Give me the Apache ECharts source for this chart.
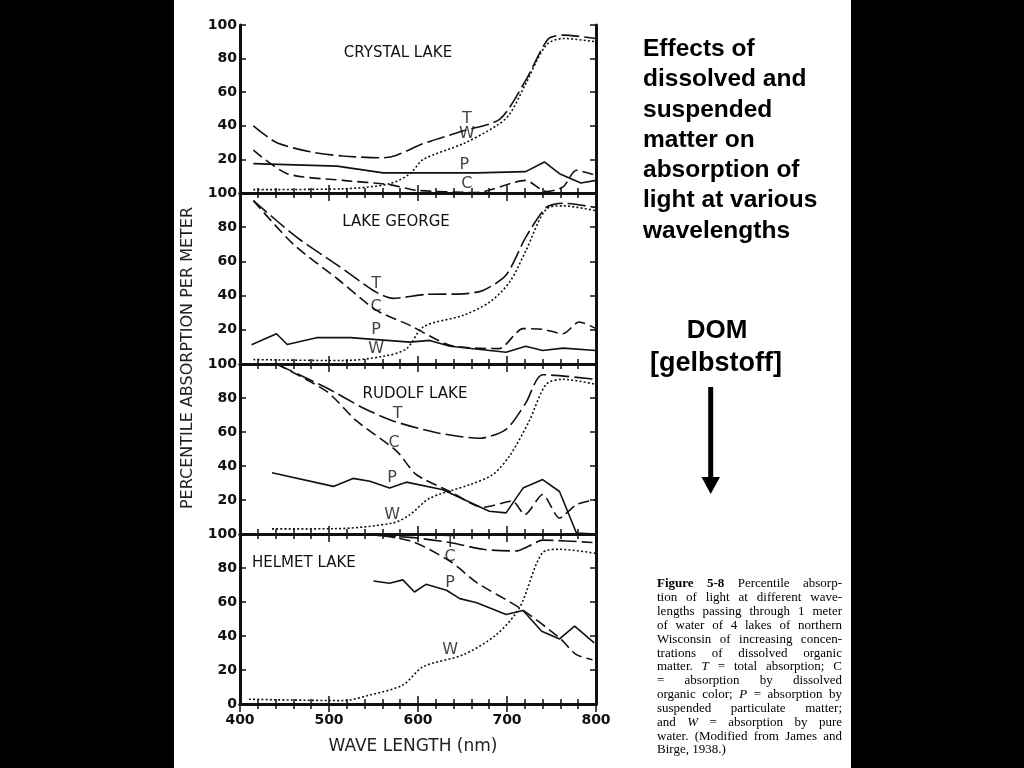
<!DOCTYPE html>
<html><head><meta charset="utf-8">
<script src="https://cdn.jsdelivr.net/npm/echarts@6/dist/echarts.min.js"></script>
<style>html,body{margin:0;padding:0;background:#000}#c{width:1024px;height:768px}</style>
</head><body><div id="c"></div><script>
const lakeNames = ['CRYSTAL LAKE', 'LAKE GEORGE', 'RUDOLF LAKE', 'HELMET LAKE'];
const xTickValues = [400, 500, 600, 700, 800];
const yTickValues = [0, 20, 40, 60, 80, 100];

// Crystal Lake  [wavelength nm, percent]
const crystalT = [[415,40],[441,30],[479,24.5],[516,22],[561,21],[576,22.5],[606,29.4],[651,37],[692,44],[721,67],[746,91.5],[763,94],[800,92]];
const crystalC = [[415,25.5],[453,11.5],[516,7.5],[568,5],[598,1.6],[666,0.3],[721,7.5],[744,0.8],[763,3.6],[778,13.5],[800,10.5]];
const crystalP = [[415,17.5],[509,16],[561,12],[666,12],[721,12.7],[742,18.5],[759,11.5],[783,6],[800,7.5]];
const crystalW = [[415,2],[516,2.5],[568,5.5],[591,11.5],[606,20],[651,29.4],[688,40],[703,47],[721,65],[744,88],[763,92],[800,90]];
const crystalLabels = [['T',655,44.3],['W',655,35],['P',652,17],['C',655,5.6]];

// Lake George
const georgeT = [[415,95.5],[464,74],[509,58],[553,42],[572,38.4],[609,40.7],[651,41],[673,43],[699,52],[721,74],[744,91.5],[763,94],[800,91.5]];
const georgeC = [[415,95.5],[460,70],[509,50],[553,31.5],[591,22.6],[636,11],[691,9],[718,20.7],[740,20.3],[763,17.7],[781,24.6],[800,20.7]];
const georgeP = [[413,11.2],[441,17.7],[453,11.4],[486,15.4],[524,15.4],[591,12.8],[613,13.8],[636,10.4],[699,6.9],[721,10.4],[740,7.9],[763,9.3],[800,7.9]];
const georgeW = [[415,2.6],[516,2],[561,4.5],[587,8.9],[606,21.7],[651,28.5],[681,36.4],[703,48],[721,66],[744,90.5],[763,92.5],[800,89.6]];
const georgeLabels = [['T',553,46.9],['C',553,33.5],['P',553,19.7],['W',553,8.9]];

// Rudolf Lake
const rudolfT = [[441,100],[497,86],[539,74],[572,66.5],[621,59.6],[669,56.3],[699,61.6],[721,77],[740,93.7],[800,91]];
const rudolfC = [[441,100],[497,84],[531,66.5],[576,48.8],[598,35],[636,25],[673,15.7],[706,19.3],[720,11.4],[740,23.2],[759,9.4],[778,17.3],[800,20.3]];
const rudolfP = [[436,36],[505,28],[527,32.7],[546,31],[568,27],[587,30.5],[628,26],[680,13.4],[699,12.4],[718,27],[740,32],[759,25],[778,0.6],[800,0]];
const rudolfW = [[436,3],[505,3.1],[572,6.5],[591,11.4],[613,21],[658,29],[684,35],[703,46],[725,66.5],[744,88],[763,91],[800,88]];
const rudolfLabels = [['T',577,70.5],['C',573,53.7],['P',571,33],['W',571,11.4]];

// Helmet Lake
const helmetT = [[400,100],[531,99.6],[591,98],[636,95],[673,91],[710,90],[725,93],[740,96.4],[796,95]];
const helmetC = [[400,100],[531,100],[591,96],[636,84],[666,71.4],[714,56.6],[759,38.9],[778,29],[796,26]];
const helmetP = [[550,72.4],[568,71],[583,73],[596,65.9],[609,70.4],[632,66.9],[647,62],[666,59.6],[699,52.7],[718,55],[739,42.8],[759,38.3],[776,45.8],[798,35.9]];
const helmetW = [[410,2.8],[516,2],[546,5.3],[583,11.2],[606,22],[651,29],[688,40.8],[714,56.6],[740,89],[759,91],[800,88.6]];
const helmetLabels = [['T',636,95],['C',636,86.8],['P',636,71],['W',636,31.6]];

const yAxisName = 'PERCENTILE ABSORPTION PER METER';
const xAxisName = 'WAVE LENGTH (nm)';
const headline = ['Effects of','dissolved and','suspended','matter on','absorption of','light at various','wavelengths'];
const domText = ['DOM','[gelbstoff]'];
const captionLines = [
  '*Figure *5-8 Percentile absorp-',
  'tion of light at different wave-',
  'lengths passing through 1 meter',
  'of water of 4 lakes of northern',
  'Wisconsin of increasing concen-',
  'trations of dissolved organic',
  'matter. _T = total absorption; C',
  '= absorption by dissolved',
  'organic color; _P = absorption by',
  'suspended particulate matter;',
  'and _W = absorption by pure',
  'water. (Modified from James and',
  'Birge, 1938.)'
];

const lakes = [
  {T: crystalT, C: crystalC, P: crystalP, W: crystalW, labels: crystalLabels},
  {T: georgeT, C: georgeC, P: georgeP, W: georgeW, labels: georgeLabels},
  {T: rudolfT, C: rudolfC, P: rudolfP, W: rudolfW, labels: rudolfLabels},
  {T: helmetT, C: helmetC, P: helmetP, W: helmetW, labels: helmetLabels}
];

const gridTops = [25, 193, 364, 534];
const gridHeights = [168, 171, 170, 170];
const GL = 240, GW = 356;
const INK = '#111';

const grids = [], xAxes = [], yAxes = [], series = [];
lakes.forEach((lk, i) => {
  grids.push({left: GL, top: gridTops[i], width: GW, height: gridHeights[i], show: false});
  const last = i === 3;
  const xBase = {
    type: 'value', gridIndex: i, min: xTickValues[0], max: xTickValues[xTickValues.length-1], interval: 100,
    axisLine: {show: true, lineStyle: {color: INK, width: 3}},
    axisTick: {show: true, inside: true, length: 8, lineStyle: {color: INK, width: 1.5}},
    minorTick: {show: true, splitNumber: 5, length: 5, lineStyle: {color: INK, width: 1.5}},
    splitLine: {show: false}, minorSplitLine: {show: false}
  };
  xAxes.push(Object.assign({}, xBase, {
    position: 'bottom',
    axisLabel: {show: last, margin: 9, color: INK, fontSize: 14, fontWeight: 'bold', fontFamily: 'DejaVu Sans'}
  }));
  xAxes.push(Object.assign({}, xBase, {position: 'top', axisLabel: {show: false}}));
  const yBase = {
    type: 'value', gridIndex: i, min: 0, max: 100, interval: 20,
    axisLine: {show: true, lineStyle: {color: INK, width: 3}},
    axisTick: {show: true, inside: true, length: 6, lineStyle: {color: INK, width: 1.5}},
    splitLine: {show: false}
  };
  yAxes.push(Object.assign({}, yBase, {
    position: 'left',
    axisLabel: {show: true, showMinLabel: last, margin: 3, color: INK, fontSize: 14, fontWeight: 'bold', fontFamily: 'DejaVu Sans'}
  }));
  yAxes.push(Object.assign({}, yBase, {position: 'right', axisLabel: {show: false}}));
  const styles = {
    T: {type: [18, 5], width: 1.6, smooth: 0.25},
    C: {type: [11, 5], width: 1.6, smooth: 0.25},
    P: {type: 'solid', width: 1.6, smooth: 0},
    W: {type: [2, 2.2], width: 1.6, smooth: 0.3}
  };
  ['T', 'C', 'P', 'W'].forEach(k => {
    series.push({
      type: 'line', name: lakeNames[i] + ' ' + k, xAxisIndex: i*2, yAxisIndex: i*2,
      data: lk[k], symbol: 'none', smooth: styles[k].smooth, clip: true,
      lineStyle: {color: INK, width: styles[k].width, type: styles[k].type}
    });
  });
  series.push({
    type: 'scatter', xAxisIndex: i*2, yAxisIndex: i*2, silent: true, symbolSize: 1,
    itemStyle: {color: 'rgba(0,0,0,0)'},
    data: lk.labels.map(l => [l[1], l[2], l[0]]),
    label: {show: true, position: 'inside', formatter: p => p.value[2], color: INK, fontSize: 16, fontFamily: 'DejaVu Sans'},
    z: 5
  });
});

// caption justification
const cFont = 13, cFam = '"Liberation Serif", "DejaVu Serif", serif';
const mctx = document.createElement('canvas').getContext('2d');
function measure(word, bold, italic) {
  mctx.font = (italic ? 'italic ' : '') + (bold ? 'bold ' : '') + cFont + 'px ' + cFam;
  return mctx.measureText(word).width;
}
const capLeft = 657, capRight = 842, capTop = 584, capStep = 13.83;
const captionEls = [];
captionLines.forEach((line, li) => {
  const words = line.split(' ').map(w => {
    let bold = false, italic = false, t = w;
    if (t[0] === '*') { bold = true; t = t.slice(1); }
    if (t[0] === '_') { italic = true; t = t.slice(1); }
    return {t, bold, italic, w: measure(t, bold, italic)};
  });
  const total = words.reduce((s, w) => s + w.w, 0);
  const justify = li < captionLines.length - 1 && words.length > 1;
  const gap = justify ? (capRight - capLeft - total) / (words.length - 1) : measure(' ', false, false);
  let x = capLeft;
  words.forEach(w => {
    captionEls.push({type: 'text', x: x, y: capTop + li * capStep, silent: true,
      style: {text: w.t, fontSize: cFont, fontFamily: cFam, fontWeight: w.bold ? 'bold' : 'normal',
        fontStyle: w.italic ? 'italic' : 'normal', fill: '#000', align: 'left', verticalAlign: 'middle'}});
    x += w.w + gap;
  });
});

const titleFont = {fontSize: 15, fontFamily: 'DejaVu Sans', fill: INK};
const graphics = [
  {type: 'rect', z: -10, silent: true, shape: {x: 174, y: 0, width: 677, height: 768}, style: {fill: '#fff'}},
  {type: 'text', x: 398, y: 53, style: Object.assign({text: lakeNames[0], align: 'center', verticalAlign: 'middle'}, titleFont)},
  {type: 'text', x: 396, y: 222, style: Object.assign({text: lakeNames[1], align: 'center', verticalAlign: 'middle'}, titleFont)},
  {type: 'text', x: 415, y: 394, style: Object.assign({text: lakeNames[2], align: 'center', verticalAlign: 'middle'}, titleFont)},
  {type: 'text', x: 252, y: 563, style: Object.assign({text: lakeNames[3], align: 'left', verticalAlign: 'middle'}, titleFont)},
  {type: 'text', x: 188, y: 358, rotation: Math.PI / 2,
    style: {text: yAxisName, align: 'center', verticalAlign: 'middle', fontSize: 16, fontFamily: 'DejaVu Sans', fill: '#222'}},
  {type: 'text', x: 413, y: 747,
    style: {text: xAxisName, align: 'center', verticalAlign: 'middle', fontSize: 17, fontFamily: 'DejaVu Sans', fill: '#222'}},
  {type: 'text', x: 643, y: 34,
    style: {text: headline.join('\n'), align: 'left', verticalAlign: 'top', fontSize: 24.5, lineHeight: 30.3,
      fontWeight: 'bold', fontFamily: '"Liberation Sans", Arial, sans-serif', fill: '#000'}},
  {type: 'text', x: 717, y: 331,
    style: {text: domText[0], align: 'center', verticalAlign: 'middle', fontSize: 26, fontWeight: 'bold',
      fontFamily: '"Liberation Sans", Arial, sans-serif', fill: '#000'}},
  {type: 'text', x: 716, y: 364,
    style: {text: domText[1], align: 'center', verticalAlign: 'middle', fontSize: 27, fontWeight: 'bold',
      fontFamily: '"Liberation Sans", Arial, sans-serif', fill: '#000'}},
  {type: 'line', silent: true, shape: {x1: 710.7, y1: 387, x2: 710.7, y2: 480}, style: {stroke: '#000', lineWidth: 5}},
  {type: 'polygon', silent: true, shape: {points: [[701.5, 477], [720, 477], [710.7, 494]]}, style: {fill: '#000'}}
].concat(captionEls);

const chart = echarts.init(document.getElementById('c'), null, {renderer: 'canvas'});
chart.setOption({
  backgroundColor: '#000',
  animation: false,
  grid: grids, xAxis: xAxes, yAxis: yAxes, series: series,
  graphic: graphics
});
</script></body></html>
